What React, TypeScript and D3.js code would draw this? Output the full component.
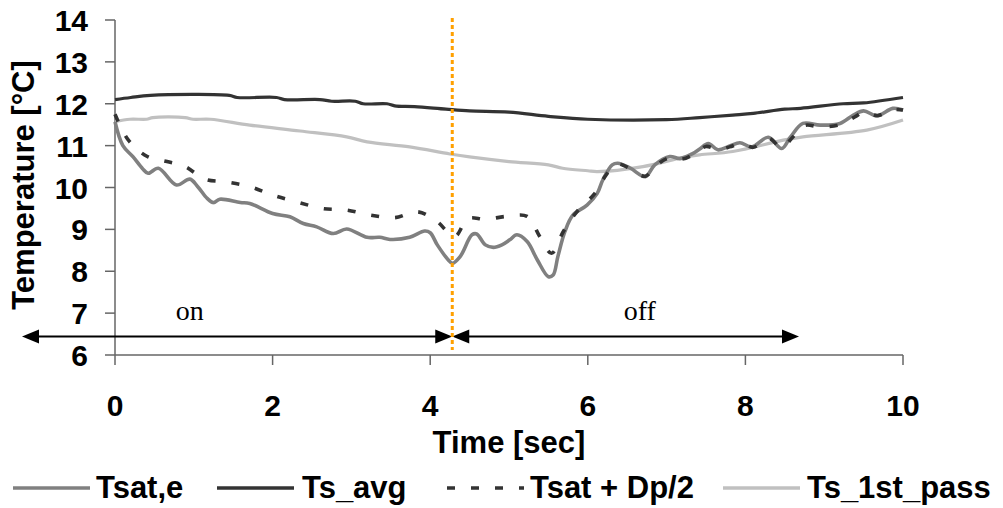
import React from "react";
import * as d3 from "d3";

const W = 1003;
const H = 508;

const xTicks = [0, 2, 4, 6, 8, 10];
const yTicks = [6, 7, 8, 9, 10, 11, 12, 13, 14];

const tsAvg: [number, number][] = [
  [0, 12.1], [0.2, 12.15], [0.45, 12.2], [1.45, 12.2], [1.55, 12.15], [2.05, 12.15],
  [2.15, 12.1], [2.6, 12.1], [2.75, 12.06], [3.05, 12.06], [3.15, 12.0], [3.45, 12.0],
  [3.55, 11.95], [3.8, 11.93], [4.2, 11.87], [4.5, 11.83], [5.0, 11.8], [5.5, 11.7],
  [6.0, 11.63], [7.0, 11.62], [7.42, 11.67], [7.84, 11.73], [8.1, 11.77], [8.5, 11.87],
  [8.7, 11.89], [9.24, 12.0], [9.5, 12.02], [10, 12.15],
];

const ts1stPass: [number, number][] = [
  [0, 11.57], [0.19, 11.63], [0.4, 11.63], [0.48, 11.67], [0.89, 11.67], [0.99, 11.63],
  [1.21, 11.63], [1.71, 11.49], [2.35, 11.35], [2.94, 11.21], [3.2, 11.09], [3.74, 10.97],
  [4.25, 10.8], [4.5, 10.73], [5.0, 10.62], [5.5, 10.54], [5.68, 10.46], [6.0, 10.4],
  [6.12, 10.38], [6.7, 10.5], [7.21, 10.72], [7.42, 10.78], [7.84, 10.86], [8.48, 11.13],
  [8.73, 11.21], [9.54, 11.37], [10, 11.61],
];

const tsatE: [number, number][] = [
  [0, 11.57], [0.1, 11.0], [0.23, 10.73], [0.35, 10.45], [0.42, 10.34], [0.55, 10.46],
  [0.78, 10.06], [0.95, 10.2], [1.05, 10.02], [1.17, 9.74], [1.25, 9.64], [1.33, 9.72],
  [1.59, 9.64], [1.71, 9.62], [2.0, 9.38], [2.22, 9.3], [2.39, 9.14], [2.56, 9.06],
  [2.77, 8.9], [2.94, 9.01], [3.2, 8.81], [3.36, 8.81], [3.49, 8.76], [3.74, 8.81],
  [3.93, 8.96], [4.0, 8.92], [4.09, 8.63], [4.23, 8.27], [4.28, 8.19], [4.38, 8.35],
  [4.53, 8.87], [4.59, 8.89], [4.7, 8.63], [4.8, 8.57], [4.91, 8.63], [5.01, 8.75],
  [5.1, 8.87], [5.23, 8.71], [5.36, 8.27], [5.5, 7.87], [5.56, 7.91], [5.62, 8.35],
  [5.71, 8.95], [5.81, 9.34], [5.99, 9.58], [6.12, 9.86], [6.19, 10.18], [6.31, 10.54],
  [6.38, 10.58], [6.54, 10.46], [6.73, 10.26], [6.85, 10.54], [7.04, 10.74], [7.17, 10.69],
  [7.33, 10.81], [7.42, 10.92], [7.53, 11.05], [7.65, 10.9], [7.8, 10.99], [7.93, 11.07],
  [8.08, 10.97], [8.29, 11.2], [8.46, 10.93], [8.57, 11.2], [8.73, 11.53], [8.95, 11.49],
  [9.2, 11.53], [9.37, 11.73], [9.5, 11.83], [9.67, 11.71], [9.87, 11.89], [10, 11.85],
];

const tsatDp: [number, number][] = [
  [0, 11.75], [0.17, 11.13], [0.41, 10.74], [0.66, 10.62], [0.89, 10.5], [1.14, 10.2],
  [1.42, 10.13], [1.71, 10.02], [2.0, 9.82], [2.32, 9.65], [2.63, 9.5], [2.94, 9.46],
  [3.24, 9.34], [3.55, 9.28], [3.84, 9.42], [4.08, 9.2], [4.31, 8.83], [4.48, 9.26],
  [4.7, 9.24], [4.97, 9.31], [5.23, 9.31], [5.39, 8.83], [5.54, 8.43], [5.69, 8.95],
  [5.86, 9.42], [6.09, 9.86], [6.19, 10.18], [6.33, 10.52], [6.4, 10.56], [6.55, 10.44],
  [6.73, 10.27], [6.86, 10.52], [7.05, 10.72], [7.2, 10.68], [7.35, 10.8], [7.5, 10.98],
  [7.65, 10.9], [7.8, 10.97], [7.95, 11.05], [8.1, 10.96], [8.3, 11.17], [8.46, 10.95],
  [8.6, 11.2], [8.75, 11.48], [8.95, 11.45], [9.2, 11.5], [9.4, 11.7], [9.5, 11.8],
  [9.68, 11.72], [9.87, 11.86], [10, 11.85],
];

const switchTime = 4.28;
const onArrow = [-1.18, 4.28];
const offArrow = [4.28, 8.68];
const arrowLevel = 6.44;

const legendItems = [
  { label: "Tsat,e", color: "#808080", dash: "", x0: 13, x1: 90, tx: 96 },
  { label: "Ts_avg", color: "#333333", dash: "", x0: 217, x1: 294, tx: 302 },
  { label: "Tsat + Dp/2", color: "#333333", dash: "8 16", x0: 447, x1: 524, tx: 530 },
  { label: "Ts_1st_pass", color: "#C0C0C0", dash: "", x0: 723, x1: 800, tx: 807 },
];

const SANS = "'Liberation Sans', Arial, sans-serif";
const SERIF = "'Liberation Serif', 'Times New Roman', serif";

export default function App() {
  const x = d3.scaleLinear().domain([0, 10]).range([115, 903]);
  const y = d3.scaleLinear().domain([6, 14]).range([355, 20]);
  const line = d3
    .line<[number, number]>()
    .x((d) => x(d[0]))
    .y((d) => y(d[1]))
    .curve(d3.curveCatmullRom.alpha(0.5));

  const ay = y(arrowLevel);
  const head = (tipX: number, dir: number) => {
    const L = 17;
    const hh = 7;
    return `M${tipX},${ay} L${tipX - dir * L},${ay - hh} L${tipX - dir * L},${ay + hh} Z`;
  };

  return (
    <svg
      width={W}
      height={H}
      style={{ position: "absolute", left: 0, top: 0, background: "#fff" }}
    >
      <rect width={W} height={H} fill="#fff" />
      {/* axes */}
      <line x1={x(0)} x2={x(0)} y1={y(14)} y2={y(6)} stroke="#666" strokeWidth={1.5} />
      <line x1={x(0)} x2={x(10)} y1={y(6)} y2={y(6)} stroke="#666" strokeWidth={1.5} />
      {yTicks.map((t) => (
        <g key={"y" + t}>
          <line x1={x(0) - 10} x2={x(0)} y1={y(t)} y2={y(t)} stroke="#666" strokeWidth={1.5} />
          <text
            x={88}
            y={y(t) + 11}
            textAnchor="end"
            fontFamily={SANS}
            fontWeight="bold"
            fontSize={30}
            fill="#000"
          >
            {t}
          </text>
        </g>
      ))}
      {xTicks.map((t) => (
        <g key={"x" + t}>
          <line x1={x(t)} x2={x(t)} y1={y(6)} y2={y(6) + 10} stroke="#666" strokeWidth={1.5} />
          <text
            x={x(t)}
            y={416}
            textAnchor="middle"
            fontFamily={SANS}
            fontWeight="bold"
            fontSize={30}
            fill="#000"
          >
            {t}
          </text>
        </g>
      ))}
      <text
        transform={`translate(34,185) rotate(-90)`}
        textAnchor="middle"
        fontFamily={SANS}
        fontWeight="bold"
        fontSize={31}
        fill="#000"
      >
        Temperature [°C]
      </text>
      <text
        x={(x(0) + x(10)) / 2}
        y={453}
        textAnchor="middle"
        fontFamily={SANS}
        fontWeight="bold"
        fontSize={31}
        fill="#000"
      >
        Time [sec]
      </text>

      {/* series */}
      <path d={line(ts1stPass) || ""} fill="none" stroke="#C0C0C0" strokeWidth={3.2} />
      <path d={line(tsAvg) || ""} fill="none" stroke="#333333" strokeWidth={3.2} />
      <path d={line(tsatE) || ""} fill="none" stroke="#808080" strokeWidth={3.6} />
      <path
        d={line(tsatDp) || ""}
        fill="none"
        stroke="#333333"
        strokeWidth={3.6}
        strokeDasharray="8 16"
      />

      {/* arrows */}
      <line x1={x(onArrow[0]) + 10} x2={x(onArrow[1]) - 10} y1={ay} y2={ay} stroke="#000" strokeWidth={2} />
      <path d={head(x(onArrow[0]), -1)} fill="#000" />
      <path d={head(x(onArrow[1]), 1)} fill="#000" />
      <line x1={x(offArrow[0]) + 10} x2={x(offArrow[1]) - 10} y1={ay} y2={ay} stroke="#000" strokeWidth={2} />
      <path d={head(x(offArrow[0]), -1)} fill="#000" />
      <path d={head(x(offArrow[1]), 1)} fill="#000" />
      <text x={x(0.95)} y={320} textAnchor="middle" fontFamily={SERIF} fontSize={28} fill="#000">
        on
      </text>
      <text x={x(6.66)} y={320} textAnchor="middle" fontFamily={SERIF} fontSize={28} fill="#000">
        off
      </text>

      {/* switch line */}
      <line
        x1={x(switchTime)}
        x2={x(switchTime)}
        y1={y(14) - 2}
        y2={350}
        stroke="#FFA000"
        strokeWidth={3}
        strokeDasharray="4 3"
      />

      {/* legend */}
      {legendItems.map((it) => (
        <g key={it.label}>
          <line
            x1={it.x0}
            x2={it.x1}
            y1={488}
            y2={488}
            stroke={it.color}
            strokeWidth={3.6}
            strokeDasharray={it.dash || undefined}
          />
          <text
            x={it.tx}
            y={498}
            fontFamily={SANS}
            fontWeight="bold"
            fontSize={31}
            fill="#000"
          >
            {it.label}
          </text>
        </g>
      ))}
    </svg>
  );
}
